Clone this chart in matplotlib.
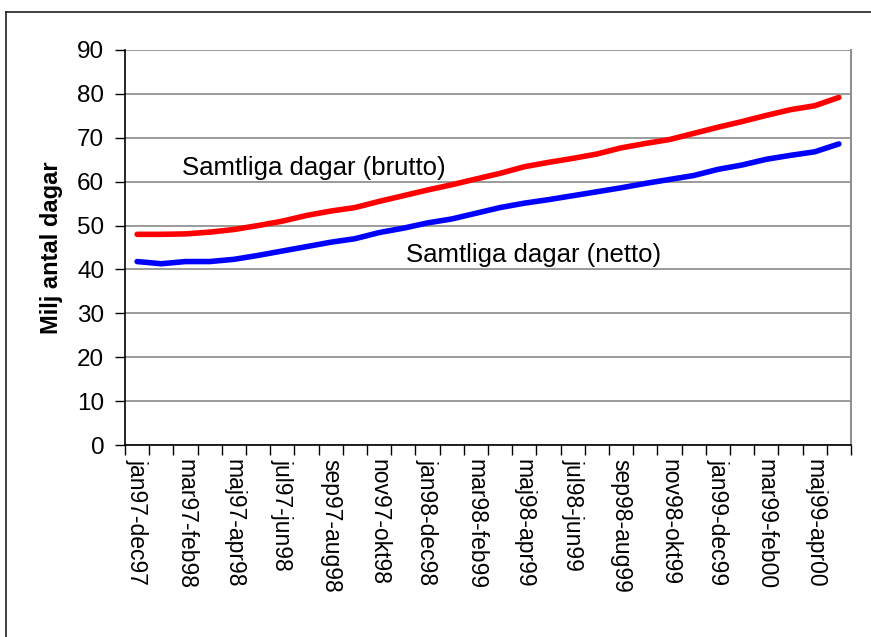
import matplotlib
matplotlib.use("Agg")
import matplotlib.pyplot as plt
from matplotlib.lines import Line2D

# Rolling 12-month periods
periods = [
    "jan97-dec97", "feb97-jan98", "mar97-feb98", "apr97-mar98", "maj97-apr98",
    "jun97-maj98", "jul97-jun98", "aug97-jul98", "sep97-aug98", "okt97-sep98",
    "nov97-okt98", "dec97-nov98", "jan98-dec98", "feb98-jan99", "mar98-feb99",
    "apr98-mar99", "maj98-apr99", "jun98-maj99", "jul98-jun99", "aug98-jul99",
    "sep98-aug99", "okt98-sep99", "nov98-okt99", "dec98-nov99", "jan99-dec99",
    "feb99-jan00", "mar99-feb00", "apr99-mar00", "maj99-apr00", "jun99-maj00",
]

# Million days, gross and net
brutto = [48.0, 48.0, 48.1, 48.5, 49.1, 50.0, 51.0, 52.3, 53.3, 54.1,
          55.5, 56.8, 58.1, 59.3, 60.6, 61.9, 63.4, 64.4, 65.3, 66.3,
          67.7, 68.7, 69.6, 71.0, 72.4, 73.7, 75.1, 76.4, 77.3, 79.2]
netto = [41.8, 41.3, 41.8, 41.8, 42.3, 43.2, 44.2, 45.2, 46.2, 47.0,
         48.4, 49.4, 50.6, 51.5, 52.8, 54.1, 55.1, 55.9, 56.8, 57.7,
         58.6, 59.6, 60.5, 61.4, 62.8, 63.8, 65.1, 66.0, 66.8, 68.6]

y_ticks = list(range(0, 100, 10))

plt.rcParams["font.family"] = ["Liberation Sans", "DejaVu Sans"]

fig = plt.figure(figsize=(8.71, 6.37), dpi=100)
ax = fig.add_axes([125 / 871, 1 - 445 / 637, (851 - 125) / 871, (445 - 50) / 637])

x = list(range(len(periods)))
ax.plot(x, brutto, color="#ff0000", lw=4.0, solid_capstyle="round", zorder=3)
ax.plot(x, netto, color="#0000ff", lw=4.0, solid_capstyle="round", zorder=3)

ax.set_xlim(-0.5, len(periods) - 0.5)
ax.set_ylim(0, 90)

# y axis
ax.set_yticks(y_ticks)
ax.set_yticklabels([str(v) for v in y_ticks], fontsize=17.5)
ax.grid(axis="y", color="#808080", lw=1.1)
ax.set_axisbelow(True)
ax.set_ylabel("Milj antal dagar", fontsize=17, fontweight="bold", labelpad=10)

# category axis: ticks between categories, labels on every other period
ax.set_xticks([i - 0.5 for i in range(len(periods) + 1)])
ax.set_xticklabels([])
ax.set_xticks(x[::2], minor=True)
ax.set_xticklabels(periods[::2], minor=True, rotation=-90, fontsize=16.5,
                   va="top", ha="center")
ax.tick_params(axis="x", which="minor", length=0, pad=10)
ax.tick_params(axis="x", which="major", length=7, width=1, color="black", direction="out")
ax.tick_params(axis="y", length=7, width=1, direction="out", pad=8)

ax.spines["top"].set_visible(False)
ax.spines["right"].set_color("#909090")
ax.spines["right"].set_linewidth(1.5)
ax.spines["left"].set_linewidth(1.2)
ax.spines["bottom"].set_linewidth(1.2)

ax.text(1.85, 63.2, "Samtliga dagar (brutto)", fontsize=18.5, va="center", ha="left")
ax.text(11.1, 43.3, "Samtliga dagar (netto)", fontsize=18.5, va="center", ha="left")

# chart frame (left and top edges)
fx, fy = 5.5 / 871, 1 - 11.5 / 637
fig.add_artist(Line2D([fx, fx], [0, fy], transform=fig.transFigure,
                      color="#202020", lw=1.2))
fig.add_artist(Line2D([fx, 1], [fy, fy], transform=fig.transFigure,
                      color="#202020", lw=1.2))

fig.savefig("out.png", dpi=100)
